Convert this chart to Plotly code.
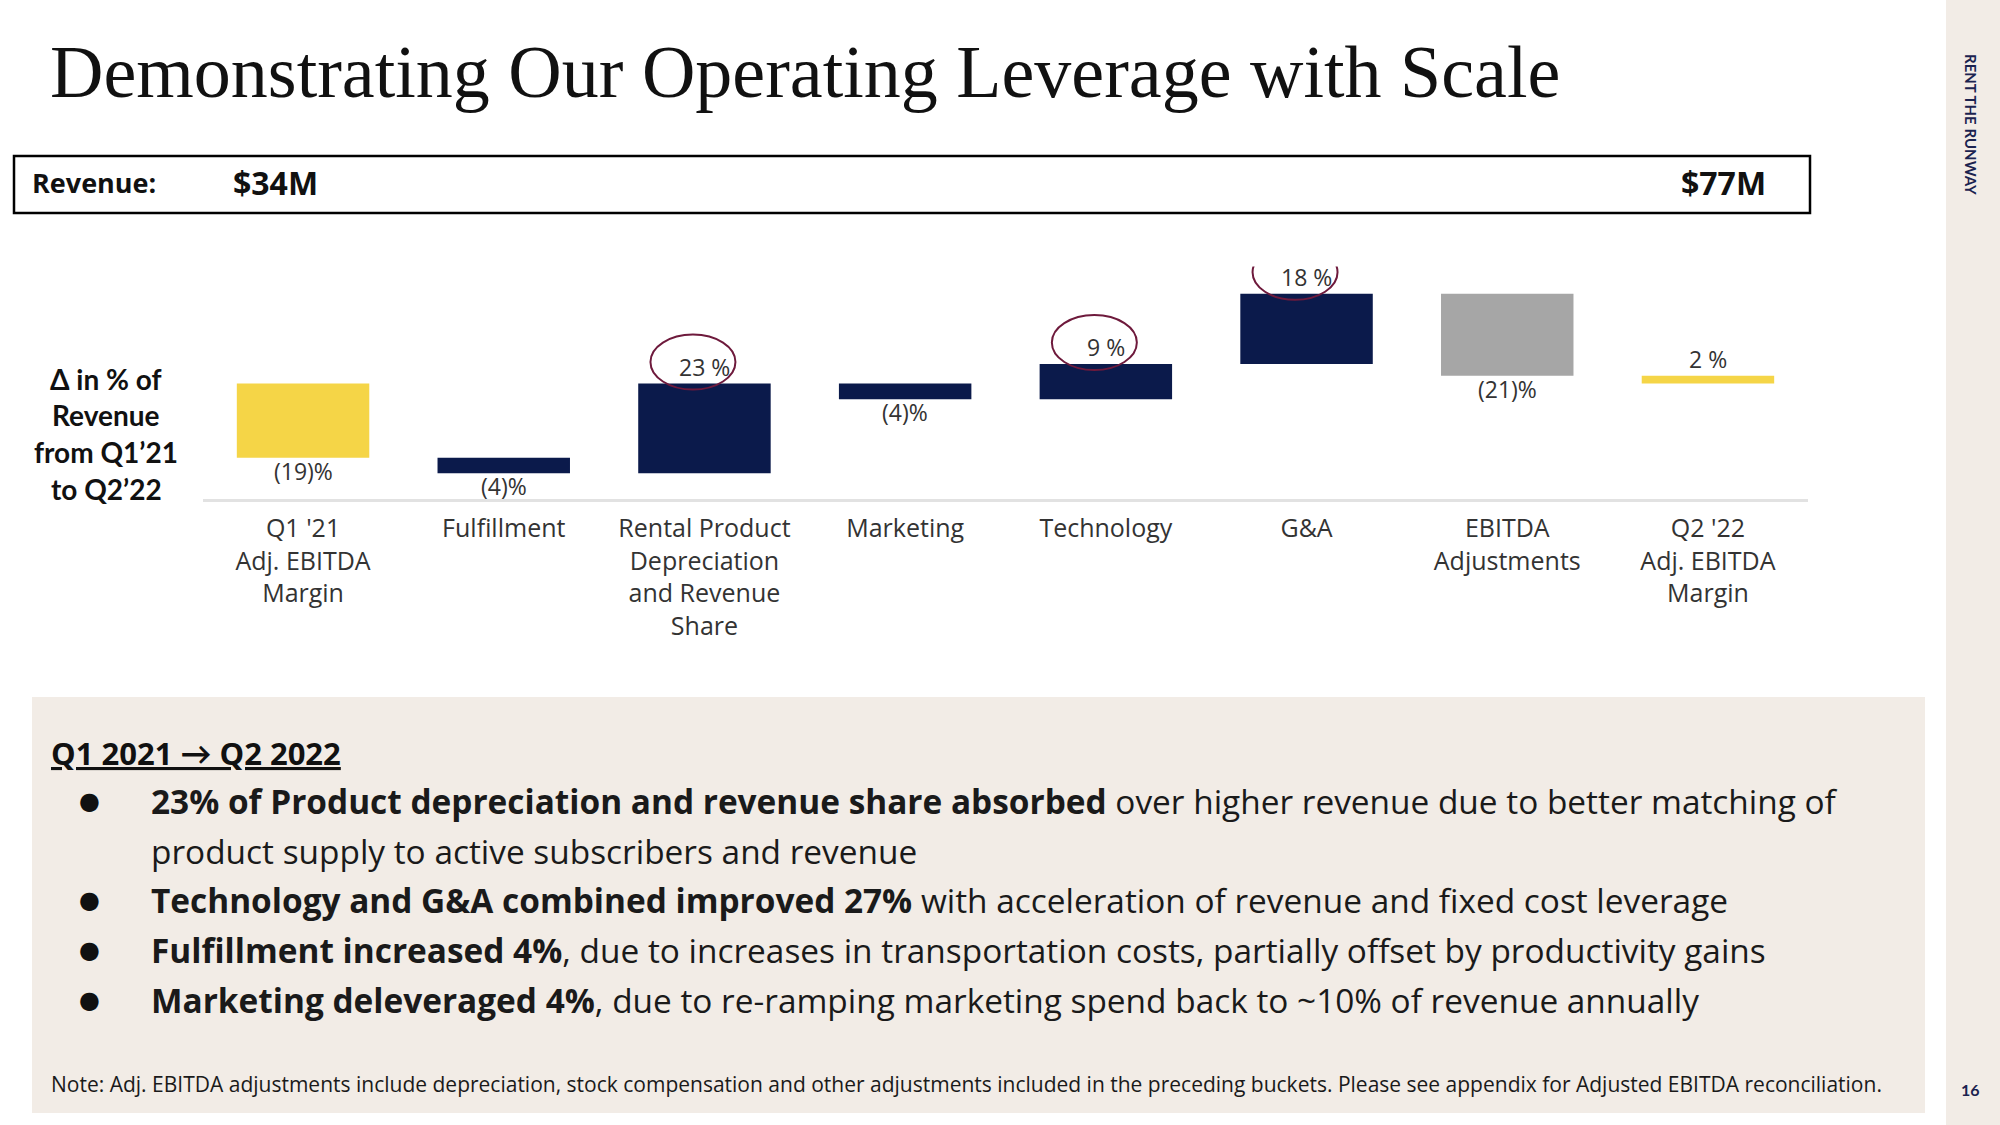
import plotly.graph_objects as go

# ---------------- data ----------------
categories = [
    "Q1 '21<br>Adj. EBITDA<br>Margin",
    "Fulfillment",
    "Rental Product<br>Depreciation<br>and Revenue<br>Share",
    "Marketing",
    "Technology",
    "G&A",
    "EBITDA<br>Adjustments",
    "Q2 '22<br>Adj. EBITDA<br>Margin",
]
changes = [-19, -4, 23, -4, 9, 18, -21, 2]
measures = ["absolute", "relative", "relative", "relative", "relative", "relative", "relative", "total"]
value_labels = ["(19)%", "(4)%", "23 %", "(4)%", "9 %", "18 %", "(21)%", "2 %"]
bar_kinds = ["margin", "cost", "cost", "cost", "cost", "cost", "adjust", "margin"]
circled = ["23 %", "9 %", "18 %"]

revenue_start = "$34M"
revenue_end = "$77M"

title_text = "Demonstrating Our Operating Leverage with Scale"
y_title_lines = ["Δ in % of", "Revenue", "from Q1’21", "to Q2’22"]
summary_heading = "Q1 2021 → Q2 2022"
bullets = [
    "<b>23% of Product depreciation and revenue share absorbed</b> over higher revenue due to better matching of",
    "product supply to active subscribers and revenue",
    "<b>Technology and G&A combined improved 27%</b> with acceleration of revenue and fixed cost leverage",
    "<b>Fulfillment increased 4%</b>, due to increases in transportation costs, partially offset by productivity gains",
    "<b>Marketing deleveraged 4%</b>, due to re-ramping marketing spend back to ~10% of revenue annually",
]
bullet_marks = [True, False, True, True, True]
note_text = ("Note: Adj. EBITDA adjustments include depreciation, stock compensation and other adjustments "
             "included in the preceding buckets. Please see appendix for Adjusted EBITDA reconciliation.")

# ---------------- styles ----------------
W, H = 2000, 1125
YELLOW = "#F5D547"
NAVY = "#0B1A4B"
GREY = "#A6A6A6"
MAROON = "#6E1A3C"
BEIGE = "#F2ECE6"
SANS = "'Open Sans', Lato, sans-serif"
LATO = "Lato, 'Open Sans', sans-serif"
kind_color = {"margin": YELLOW, "cost": NAVY, "adjust": GREY}


def px(x):
    return x / W


def py(y):
    return 1 - y / H


# waterfall bases
bases, running = [], 0
for m, c in zip(measures, changes):
    if m == "absolute":
        bases.append(0)
        running = c
    elif m == "relative":
        bases.append(running)
        running += c
    else:
        bases.append(0)
bar_y = [c if m != "total" else running for m, c in zip(measures, changes)]

fig = go.Figure()
fig.add_trace(go.Bar(
    x=list(range(len(categories))),
    y=bar_y,
    base=bases,
    marker=dict(color=[kind_color[k] for k in bar_kinds], line=dict(width=0)),
    hoverinfo="skip",
    width=0.66,
    cliponaxis=False,
))

shapes = []
# background panels
shapes.append(dict(type="rect", xref="paper", yref="paper", x0=px(1946), x1=1, y0=0, y1=1,
                   fillcolor=BEIGE, line=dict(width=0), layer="below"))
shapes.append(dict(type="rect", xref="paper", yref="paper", x0=px(32), x1=px(1925), y0=py(1113), y1=py(697),
                   fillcolor=BEIGE, line=dict(width=0), layer="below"))
# revenue box
shapes.append(dict(type="rect", xref="paper", yref="paper", x0=px(14), x1=px(1810), y0=py(213), y1=py(156),
                   fillcolor="rgba(0,0,0,0)", line=dict(color="black", width=2.5)))

annotations = []
# value labels + highlight circles
for i, lab in enumerate(value_labels):
    lo = min(bases[i], bases[i] + bar_y[i])
    hi = max(bases[i], bases[i] + bar_y[i])
    if bar_y[i] < 0:
        annotations.append(dict(text=lab, xref="x", yref="y", x=i, y=lo, yshift=-13,
                                xanchor="center", yanchor="middle", showarrow=False,
                                font=dict(family=SANS, size=23, color="#333333")))
    else:
        annotations.append(dict(text=lab, xref="x", yref="y", x=i, y=hi, yshift=17,
                                xanchor="center", yanchor="middle", showarrow=False,
                                font=dict(family=SANS, size=23, color="#333333")))
    if lab in circled:
        shapes.append(dict(type="circle", xref="x", yref="y", xsizemode="pixel", ysizemode="pixel",
                           xanchor=i, yanchor=hi, x0=-54, x1=31, y0=-6, y1=49,
                           line=dict(color=MAROON, width=2)))

annotations.append(dict(text=title_text, xref="paper", yref="paper", x=px(48), y=py(72),
                        xanchor="left", yanchor="middle", showarrow=False,
                        font=dict(family="'Liberation Serif', 'DejaVu Serif', serif", size=74, color="#111111")))
annotations.append(dict(text="<b>Revenue:</b>", xref="paper", yref="paper", x=px(30), y=py(182),
                        xanchor="left", yanchor="middle", showarrow=False,
                        font=dict(family=SANS, size=27, color="#111111")))
annotations.append(dict(text="<b>" + revenue_start + "</b>", xref="paper", yref="paper", x=px(231), y=py(183),
                        xanchor="left", yanchor="middle", showarrow=False,
                        font=dict(family=SANS, size=32, color="#111111")))
annotations.append(dict(text="<b>" + revenue_end + "</b>", xref="paper", yref="paper", x=px(1679), y=py(183),
                        xanchor="left", yanchor="middle", showarrow=False,
                        font=dict(family=SANS, size=32, color="#111111")))
for k, line in enumerate(y_title_lines):
    annotations.append(dict(text="<b>" + line + "</b>", xref="paper", yref="paper", x=px(106), y=py(379 + 36.5 * k),
                            xanchor="center", yanchor="middle", showarrow=False,
                            font=dict(family=LATO, size=28, color="#111111")))
annotations.append(dict(text="<b><u>" + summary_heading + "</u></b>", xref="paper", yref="paper",
                        x=px(49), y=py(753), xanchor="left", yanchor="middle", showarrow=False,
                        font=dict(family=SANS, size=31, color="#111111")))
for k, (line, mark) in enumerate(zip(bullets, bullet_marks)):
    yy = py(801 + 49.7 * k)
    if mark:
        annotations.append(dict(text="●", xref="paper", yref="paper", x=px(89), y=yy,
                                xanchor="center", yanchor="middle", showarrow=False,
                                font=dict(family="DejaVu Sans", size=24, color="#111111")))
    annotations.append(dict(text=line, xref="paper", yref="paper", x=px(149), y=yy,
                            xanchor="left", yanchor="middle", showarrow=False,
                            font=dict(family=SANS, size=33.4, color="#1a1a1a")))
annotations.append(dict(text=note_text, xref="paper", yref="paper", x=px(49), y=py(1084),
                        xanchor="left", yanchor="middle", showarrow=False,
                        font=dict(family=SANS, size=21, color="#1a1a1a")))
annotations.append(dict(text="<b>RENT THE RUNWAY</b>", xref="paper", yref="paper", x=px(1971), y=py(124),
                        xanchor="center", yanchor="middle", showarrow=False, textangle=90,
                        font=dict(family=LATO, size=15, color="#1B2350")))
annotations.append(dict(text="<b>16</b>", xref="paper", yref="paper", x=px(1970), y=py(1089),
                        xanchor="center", yanchor="middle", showarrow=False,
                        font=dict(family=LATO, size=16, color="#1B2350")))

Y_LO, Y_HI = -29.6, 30
fig.update_layout(
    width=W, height=H,
    margin=dict(l=0, r=0, t=0, b=0),
    paper_bgcolor="white", plot_bgcolor="rgba(0,0,0,0)",
    showlegend=False,
    bargap=0.34,
    xaxis=dict(domain=[px(202.7), px(1808.3)], range=[-0.5, len(categories) - 0.5],
               tickmode="array", tickvals=list(range(len(categories))), ticktext=categories,
               tickfont=dict(family=SANS, size=25, color="#333333"), ticklabelstandoff=5,
               showgrid=False, zeroline=False, showline=True, linecolor="#E2E2E2", linewidth=3,
               ticks="", fixedrange=True),
    yaxis=dict(domain=[py(499), py(266.5)], range=[Y_LO, Y_HI], visible=False, fixedrange=True),
    shapes=shapes,
    annotations=annotations,
)

fig.write_html("out.html", config={"displayModeBar": False},
               post_script="document.body.style.margin='0';")
